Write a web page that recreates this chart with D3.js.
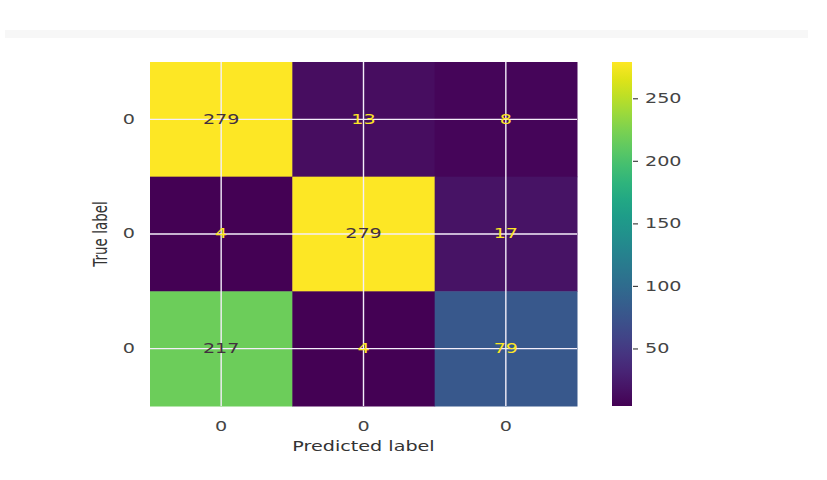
<!DOCTYPE html>
<html>
<head>
<meta charset="utf-8">
<script src="https://cdn.jsdelivr.net/npm/d3@7"></script>
<style>
  body { margin: 0; background: #fff; }
  text { font-family: "DejaVu Sans", sans-serif; }
</style>
</head>
<body>
<div id="chart"></div>
<script>
'use strict';

let width = 827;
let height = 480;
let margin = { top: 62, left: 150, right: 250, bottom: 74 };

// the source picture was stretched sideways, so text is widened to match
const sx = 1.42;

// confusion matrix values, row = true label, col = predicted label
let rowLabels = ["0", "0", "0"];
let colLabels = ["0", "0", "0"];
let matrix = [
    [279, 13, 8],
    [4, 279, 17],
    [217, 4, 79],
];
let colorTicks = [50, 100, 150, 200, 250];

let svg = d3.select("#chart")
    .append("svg")
    .attr("width", width)
    .attr("height", height);

// faint band at the top of the notebook cell
svg.append("rect")
    .attr("x", 5).attr("y", 30)
    .attr("width", 803).attr("height", 8)
    .attr("fill", "#f7f7f7");

const plotW = 577 - margin.left;
const plotH = 406 - margin.top;

const x = d3.scaleBand().domain(d3.range(colLabels.length)).range([margin.left, margin.left + plotW]);
const y = d3.scaleBand().domain(d3.range(rowLabels.length)).range([margin.top, margin.top + plotH]);

const allVals = matrix.flat();
const vmin = d3.min(allVals), vmax = d3.max(allVals);
const color = d3.scaleSequential(d3.interpolateViridis).domain([vmin, vmax]);

const cells = [];
matrix.forEach((row, i) => row.forEach((v, j) => cells.push({ i, j, v })));

svg.selectAll(".cell")
    .data(cells)
    .join("rect")
    .attr("class", "cell")
    .attr("x", d => x(d.j))
    .attr("y", d => y(d.i))
    .attr("width", x.bandwidth() + 0.5)
    .attr("height", y.bandwidth() + 0.5)
    .attr("fill", d => color(d.v));

// white grid lines through cell centers (seaborn style)
svg.selectAll(".vgrid")
    .data(d3.range(colLabels.length))
    .join("line")
    .attr("x1", d => x(d) + x.bandwidth() / 2)
    .attr("x2", d => x(d) + x.bandwidth() / 2)
    .attr("y1", margin.top).attr("y2", margin.top + plotH)
    .attr("stroke", "#f4eefa").attr("stroke-width", 1.4);

svg.selectAll(".hgrid")
    .data(d3.range(rowLabels.length))
    .join("line")
    .attr("y1", d => y(d) + y.bandwidth() / 2)
    .attr("y2", d => y(d) + y.bandwidth() / 2)
    .attr("x1", margin.left).attr("x2", margin.left + plotW)
    .attr("stroke", "#f4eefa").attr("stroke-width", 1.4);

function place(px, py) {
    return `translate(${px},${py}) scale(${sx},1)`;
}

const mid = (vmin + vmax) / 2;
svg.selectAll(".val")
    .data(cells)
    .join("text")
    .attr("transform", d => place(x(d.j) + x.bandwidth() / 2, y(d.i) + y.bandwidth() / 2))
    .attr("text-anchor", "middle")
    .attr("dominant-baseline", "central")
    .attr("font-size", 13.5)
    .attr("fill", d => d.v < mid ? d3.interpolateViridis(1) : "#42303f")
    .text(d => d.v);

// tick labels
svg.selectAll(".xt")
    .data(colLabels)
    .join("text")
    .attr("transform", (d, i) => place(x(i) + x.bandwidth() / 2, 427))
    .attr("text-anchor", "middle")
    .attr("dominant-baseline", "central")
    .attr("font-size", 13.5)
    .attr("fill", "#444")
    .text(d => d);

svg.selectAll(".yt")
    .data(rowLabels)
    .join("text")
    .attr("transform", (d, i) => place(135, y(i) + y.bandwidth() / 2))
    .attr("text-anchor", "end")
    .attr("dominant-baseline", "central")
    .attr("font-size", 13.5)
    .attr("fill", "#444")
    .text(d => d);

svg.append("text")
    .attr("transform", place(margin.left + plotW / 2, 447))
    .attr("text-anchor", "middle")
    .attr("dominant-baseline", "central")
    .attr("font-size", 13.5)
    .attr("fill", "#333")
    .text("Predicted label");

svg.append("text")
    .attr("transform", `translate(101,${margin.top + plotH / 2}) scale(${sx},1) rotate(-90)`)
    .attr("text-anchor", "middle")
    .attr("dominant-baseline", "central")
    .attr("font-size", 13.5)
    .attr("fill", "#333")
    .text("True label");

// colorbar
const cbX = 612, cbW = 20;
const cbScale = d3.scaleLinear().domain([vmin, vmax]).range([margin.top + plotH, margin.top]);

const defs = svg.append("defs");
const grad = defs.append("linearGradient")
    .attr("id", "cbgrad")
    .attr("x1", 0).attr("y1", 1).attr("x2", 0).attr("y2", 0);
grad.selectAll("stop")
    .data(d3.range(0, 1.0001, 0.05))
    .join("stop")
    .attr("offset", d => d)
    .attr("stop-color", d => d3.interpolateViridis(d));

svg.append("rect")
    .attr("x", cbX).attr("y", margin.top)
    .attr("width", cbW).attr("height", plotH)
    .attr("fill", "url(#cbgrad)");

const cbAxis = svg.append("g")
    .attr("transform", `translate(${cbX + cbW},0)`)
    .call(d3.axisRight(cbScale).tickValues(colorTicks).tickSize(5).tickPadding(5));
cbAxis.select(".domain").remove();
cbAxis.selectAll(".tick line").attr("stroke", "#444").attr("stroke-width", 1.2).attr("transform", "translate(1,0)");
cbAxis.selectAll(".tick text")
    .attr("font-family", "DejaVu Sans, sans-serif")
    .attr("font-size", 13.5)
    .attr("fill", "#444")
    .attr("x", 0)
    .attr("transform", `translate(13,0) scale(${sx},1)`);
</script>
</body>
</html>
